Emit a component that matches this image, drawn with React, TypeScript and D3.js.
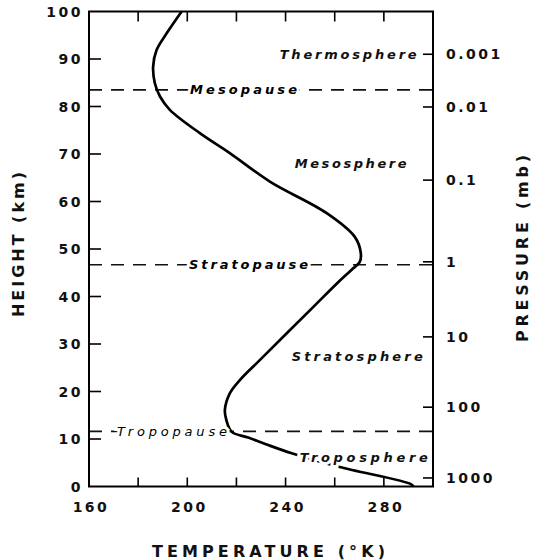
import React from "react";
import * as d3 from "d3";

// ---- data ----
const heightTicks = [0, 10, 20, 30, 40, 50, 60, 70, 80, 90, 100];
const tempTickValues = [180, 200, 220, 240, 260, 280];
const tempTickLabels = [160, 200, 240, 280];
const pressureLabels = ["0.001", "0.01", "0.1", "1", "10", "100", "1000"];
const pressureHeights = [91.0, 79.9, 64.5, 47.3, 31.5, 16.7, 1.8];

const profileHeight = [0, 0.5, 4.1, 7.0, 8.9, 10.3, 11.5, 14.0, 16.1, 19.6, 22.4, 26.6, 37.5, 42.8, 45.6, 47.3, 49.2, 52.6, 57.6, 64.2, 70.2, 74.4, 79.3, 82.1, 84.9, 88.4, 91.9, 95.4, 100];
const profileTemp = [292, 291, 262, 242.5, 232, 224.8, 218.1, 215.9, 215.3, 217.3, 221.4, 229.5, 250.7, 261, 266.8, 270.2, 270.6, 268.1, 256.6, 233.6, 217.3, 205.1, 192.9, 188.9, 186.8, 186.1, 187.5, 191.6, 197.7];

const pauseNames = ["Tropopause", "Stratopause", "Mesopause"];
const pauseHeights = [11.6, 46.7, 83.5];
const pauseLabelTemp = [171.4, 200.7, 201.1];

const layerNames = ["Thermosphere", "Mesosphere", "Stratosphere", "Troposphere"];
const layerLabelTemp = [237.6, 243.7, 242.5, 245.8];
const layerLabelHeight = [91.05, 68.1, 27.3, 6.2];

// ---- layout / style ----
const W = 537, H = 560;
const FONT = "'DejaVu Sans', sans-serif";
const pauseLen = [110, 119, 107];
const layerLen = [137, 112, 131, 128];

export default function App() {
  const x = d3.scaleLinear().domain([160, 300]).range([89, 433]);
  const y = d3.scaleLinear().domain([0, 100]).range([486.5, 11.5]);
  const pts: [number, number][] = profileHeight.map((h, i) => [profileTemp[i], h]);
  const line = d3
    .line<[number, number]>()
    .x((d) => x(d[0]))
    .y((d) => y(d[1]))
    .curve(d3.curveCatmullRom.alpha(0.5));
  const x0 = x(160), x1 = x(300), yTop = y(100), yBot = y(0);

  return (
    <svg width={W} height={H} style={{ position: "absolute", left: 0, top: 0, background: "#fff" }} fontFamily={FONT}>
      <rect x={0} y={0} width={W} height={H} fill="#fff" />
      {/* dashed pause lines */}
      {pauseHeights.map((h, i) => (
        <line key={"p" + i} x1={x0} x2={x1} y1={y(h)} y2={y(h)} stroke="#111" strokeWidth={1.6} strokeDasharray="13 9" />
      ))}
      {/* profile */}
      <path d={line(pts) || ""} fill="none" stroke="#000" strokeWidth={2.7} />
      {/* pause labels */}
      {pauseNames.map((n, i) => (
        <text key={"pl" + i} x={x(pauseLabelTemp[i])} y={y(pauseHeights[i])} dy="0.35em" fontSize={13} fontStyle="italic"
          fontWeight={i === 0 ? "normal" : "bold"} textLength={pauseLen[i]} lengthAdjust="spacing"
          stroke="#fff" strokeWidth={6} paintOrder="stroke" fill="#000">{n}</text>
      ))}
      {/* layer labels */}
      {layerNames.map((n, i) => (
        <text key={"ll" + i} x={x(layerLabelTemp[i])} y={y(layerLabelHeight[i])} dy="0.35em" fontSize={13} fontStyle="italic"
          fontWeight="bold" textLength={layerLen[i]} lengthAdjust="spacing"
          stroke="#fff" strokeWidth={6} paintOrder="stroke" fill="#111">{n}</text>
      ))}
      {/* frame */}
      <rect x={x0} y={yTop} width={x1 - x0} height={yBot - yTop} fill="none" stroke="#000" strokeWidth={2} />
      {/* left ticks */}
      {heightTicks.slice(1, -1).map((h) => (
        <line key={"lt" + h} x1={x0} x2={x0 + 12} y1={y(h)} y2={y(h)} stroke="#000" strokeWidth={1.6} />
      ))}
      {heightTicks.map((h) => (
        <text key={"lx" + h} x={83} y={y(h)} dy="0.36em" textAnchor="end" fontSize={14} fontWeight="bold" letterSpacing={2.5} fill="#111">{h}</text>
      ))}
      {/* top & bottom ticks */}
      {tempTickValues.map((t) => (
        <g key={"tt" + t}>
          <line x1={x(t)} x2={x(t)} y1={yTop} y2={yTop + 10} stroke="#000" strokeWidth={1.6} />
          <line x1={x(t)} x2={x(t)} y1={yBot} y2={yBot - 9} stroke="#000" strokeWidth={1.6} />
        </g>
      ))}
      {tempTickLabels.map((t) => (
        <text key={"bx" + t} x={x(t) + 2} y={507} dy="0.36em" textAnchor="middle" fontSize={14} fontWeight="bold" letterSpacing={2.5} fill="#111">{t}</text>
      ))}
      {/* right pressure ticks */}
      {pressureHeights.map((h, i) => (
        <g key={"pr" + i}>
          <line x1={x1} x2={x1 - 10} y1={y(h)} y2={y(h)} stroke="#000" strokeWidth={1.6} />
          <text x={446} y={y(h)} dy="0.36em" fontSize={14} fontWeight="bold" letterSpacing={2.5} fill="#111">{pressureLabels[i]}</text>
        </g>
      ))}
      {/* axis titles */}
      <text x={268.5} y={551} dy="0.36em" textAnchor="middle" fontSize={16} fontWeight="bold" textLength={233} lengthAdjust="spacing" fill="#111">TEMPERATURE (°K)</text>
      <text transform="translate(18.5,244.5) rotate(-90)" dy="0.36em" textAnchor="middle" fontSize={16} fontWeight="bold" textLength={145} lengthAdjust="spacing" fill="#111">HEIGHT (km)</text>
      <text transform="translate(522.5,248.5) rotate(-90)" dy="0.36em" textAnchor="middle" fontSize={16} fontWeight="bold" textLength={187} lengthAdjust="spacing" fill="#111">PRESSURE (mb)</text>
    </svg>
  );
}
